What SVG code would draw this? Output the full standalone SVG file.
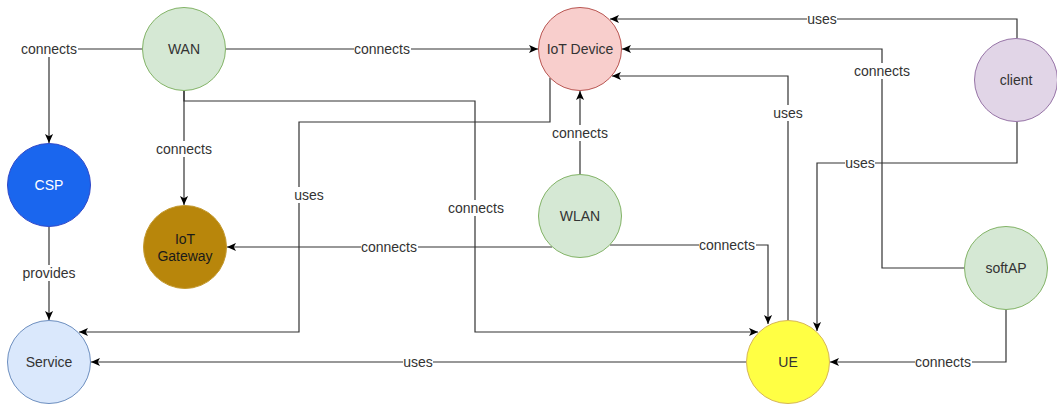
<svg xmlns="http://www.w3.org/2000/svg" width="1057" height="405" viewBox="0 0 1057 405">
<style>
  .n text, .lbl text { font-family: "Liberation Sans", Arial, Helvetica, sans-serif; font-size: 14px; text-anchor: middle; dominant-baseline: central; }
  .n text { fill: #333333; }
  .lbl text { fill: #333333; }
  .lbl rect { fill: #ffffff; }
  .e { fill: none; stroke: #333333; stroke-width: 1.2; }
  .ea { marker-end: url(#arr); }
</style>
<defs>
  <marker id="arr" viewBox="0 0 10 10" refX="10" refY="5" markerWidth="9" markerHeight="9" markerUnits="userSpaceOnUse" orient="auto">
    <path d="M0,0.5 L10,5 L0,9.5 L2.5,5 Z" fill="#000000"/>
  </marker>
</defs>
<rect width="1057" height="405" fill="#ffffff"/>

<g id="connectors">
  <path class="e ea" d="M143,49 H49 V143"/>
  <path class="e ea" d="M226,49 H538"/>
  <path class="e ea" d="M184,91 V205"/>
  <path class="e ea" d="M184,91 V101 H475 V332 H758"/>
  <path class="e ea" d="M550,78 V122 H299 V332 H79"/>
  <path class="e ea" d="M580,174 V91"/>
  <path class="e ea" d="M552,247 H227"/>
  <path class="e ea" d="M610,245 H768 V324"/>
  <path class="e ea" d="M746,362 H91"/>
  <path class="e ea" d="M788,320 V76 H612"/>
  <path class="e ea" d="M1017,38 V19 H610"/>
  <path class="e ea" d="M1017,122 V163 H817 V331"/>
  <path class="e ea" d="M964,268 H882 V49 H622"/>
  <path class="e ea" d="M1006,310 V362 H830"/>
  <path class="e ea" d="M49,227 V320"/>

  <g class="lbl">
    <rect x="21" y="41" width="57" height="16"/><text x="49" y="49">connects</text>
    <rect x="354" y="41" width="57" height="16"/><text x="382" y="49">connects</text>
    <rect x="156" y="141" width="57" height="16"/><text x="184" y="149">connects</text>
    <rect x="448" y="200" width="57" height="16"/><text x="476" y="208">connects</text>
    <rect x="294" y="187" width="30" height="16"/><text x="309" y="195">uses</text>
    <rect x="552" y="125" width="57" height="16"/><text x="580" y="133">connects</text>
    <rect x="361" y="239" width="57" height="16"/><text x="389" y="247">connects</text>
    <rect x="699" y="237" width="57" height="16"/><text x="727" y="245">connects</text>
    <rect x="403" y="354" width="30" height="16"/><text x="418" y="362">uses</text>
    <rect x="773" y="105" width="30" height="16"/><text x="788" y="113">uses</text>
    <rect x="807" y="11" width="30" height="16"/><text x="822" y="19">uses</text>
    <rect x="845" y="155" width="30" height="16"/><text x="860" y="163">uses</text>
    <rect x="854" y="63" width="57" height="16"/><text x="882" y="71">connects</text>
    <rect x="915" y="354" width="57" height="16"/><text x="943" y="362">connects</text>
    <rect x="22" y="265" width="54" height="16"/><text x="49" y="273">provides</text>
  </g>
</g>

<g id="WAN" class="n">
  <circle cx="184" cy="49" r="41.5" fill="#d5e8d4" stroke="#82b366"/>
  <text x="184" y="49">WAN</text>
</g>
<g id="IoTDevice" class="n">
  <circle cx="580" cy="49" r="41.5" fill="#f8cecc" stroke="#b85450"/>
  <text x="580" y="49">IoT Device</text>
</g>
<g id="client" class="n">
  <circle cx="1016" cy="80" r="41.5" fill="#e1d5e7" stroke="#9673a6"/>
  <text x="1016" y="80">client</text>
</g>
<g id="CSP" class="n">
  <circle cx="49" cy="185" r="41.5" fill="#1a66ee" stroke="#3048c8"/>
  <text x="49" y="185" style="fill:#ffffff">CSP</text>
</g>
<g id="IoTGateway" class="n">
  <circle cx="185" cy="247" r="41.5" fill="#b8860b" stroke="#c49a30"/>
  <text x="185" y="239" style="fill:#1a1a1a">IoT</text>
  <text x="185" y="256" style="fill:#1a1a1a">Gateway</text>
</g>
<g id="WLAN" class="n">
  <circle cx="580" cy="216" r="41.5" fill="#d5e8d4" stroke="#82b366"/>
  <text x="580" y="216">WLAN</text>
</g>
<g id="softAP" class="n">
  <circle cx="1006" cy="268" r="41.5" fill="#d5e8d4" stroke="#82b366"/>
  <text x="1006" y="268">softAP</text>
</g>
<g id="Service" class="n">
  <circle cx="49" cy="362" r="41.5" fill="#dae8fc" stroke="#6c8ebf"/>
  <text x="49" y="362">Service</text>
</g>
<g id="UE" class="n">
  <circle cx="788" cy="362" r="41.5" fill="#ffff44" stroke="#d6b656"/>
  <text x="788" y="362">UE</text>
</g>
</svg>
